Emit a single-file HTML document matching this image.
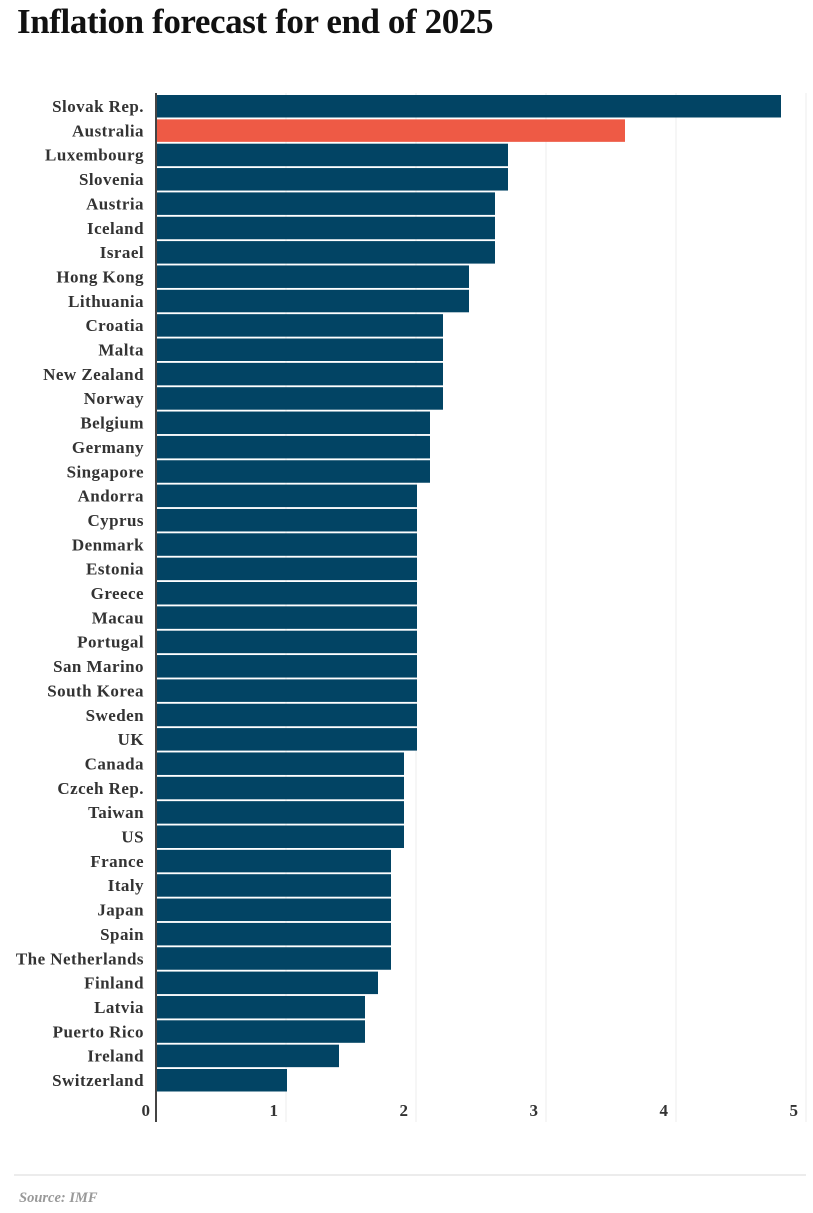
<!DOCTYPE html>
<html><head><meta charset="utf-8"><style>
body{margin:0;background:#fff;width:813px;height:1213px;overflow:hidden;font-family:"Liberation Serif",serif;}
h1{position:absolute;left:17px;top:2px;margin:0;font-size:35px;font-weight:bold;color:#111;letter-spacing:-0.4px}
#src{position:absolute;left:19px;top:1190px;font-size:14.5px;font-style:italic;font-weight:bold;color:#999}
#div{position:absolute;left:14px;top:1174px;width:792px;height:2px;background:#ececec}
</style></head><body>
<h1>Inflation forecast for end of 2025</h1>
<svg id="chart" width="813" height="1213" style="position:absolute;left:0;top:0"></svg>
<div id="div"></div>
<div id="src">Source: IMF</div>
<script>
const categories=["Slovak Rep.","Australia","Luxembourg","Slovenia","Austria","Iceland","Israel","Hong Kong","Lithuania","Croatia","Malta","New Zealand","Norway","Belgium","Germany","Singapore","Andorra","Cyprus","Denmark","Estonia","Greece","Macau","Portugal","San Marino","South Korea","Sweden","UK","Canada","Czceh Rep.","Taiwan","US","France","Italy","Japan","Spain","The Netherlands","Finland","Latvia","Puerto Rico","Ireland","Switzerland"];
const values=[4.8,3.6,2.7,2.7,2.6,2.6,2.6,2.4,2.4,2.2,2.2,2.2,2.2,2.1,2.1,2.1,2.0,2.0,2.0,2.0,2.0,2.0,2.0,2.0,2.0,2.0,2.0,1.9,1.9,1.9,1.9,1.8,1.8,1.8,1.8,1.8,1.7,1.6,1.6,1.4,1.0];
const highlight=["Australia"];
const ticks=[0,1,2,3,4,5];
const NS="http://www.w3.org/2000/svg";
const svg=document.getElementById('chart');
const x=v=>156+v*130;
const y=i=>95+i*24.35;
function mk(t,a){const e=document.createElementNS(NS,t);for(const k in a)e.setAttribute(k,a[k]);svg.appendChild(e);return e;}
ticks.forEach(t=>{
 if(t>0){const g=mk('line',{x1:x(t),x2:x(t),y1:93,y2:1122,stroke:'#eeeeee','stroke-width':1});
 
 }
 const l=mk('text',{x:x(t)-(t==0?6:8),y:1116,'text-anchor':'end','font-size':17,'font-weight':'bold',fill:'#333'});
 l.textContent=t;
 
 
});
categories.forEach((c,i)=>{
 const r=mk('rect',{x:157,y:y(i),width:x(values[i])-157+1,height:22.5,fill:highlight.includes(c)?'#ee5a45':'#024464'});
 
 
 const t=mk('text',{x:144,y:y(i)+17,'text-anchor':'end','font-size':17,'letter-spacing':0.45,'font-weight':'bold',fill:'#333'});
 t.textContent=c;
 
 
});
const ax=mk('line',{x1:156,x2:156,y1:93,y2:1122,stroke:'#444','stroke-width':2});


</script>
</body></html>
